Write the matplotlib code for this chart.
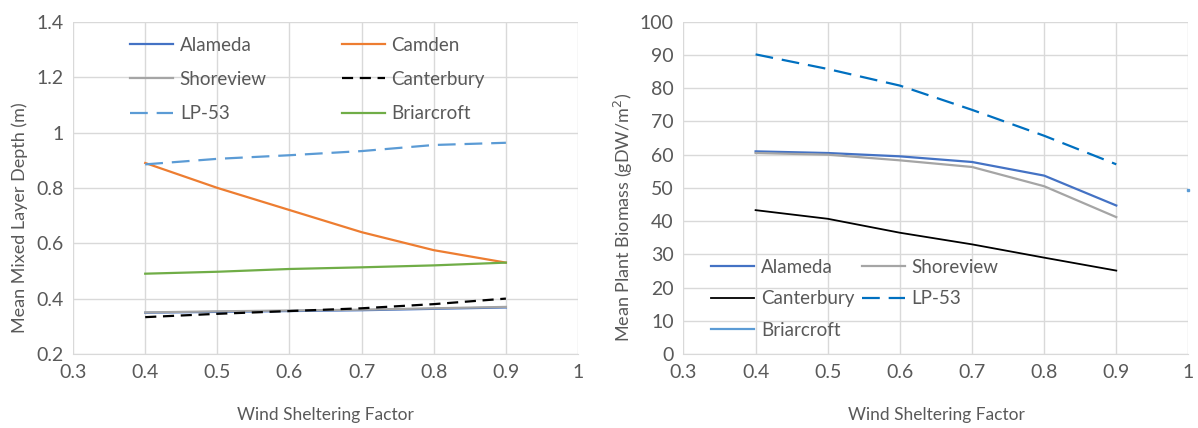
import matplotlib.pyplot as plt

plt.rcParams['font.family'] = ['Lato', 'DejaVu Sans']

# wind sheltering factor
wsf = [0.4, 0.5, 0.6, 0.7, 0.8, 0.9]

# --- mean mixed layer depth (m)
mld_alameda = [0.349, 0.352, 0.355, 0.358, 0.363, 0.368]
mld_camden = [0.89, 0.80, 0.72, 0.64, 0.575, 0.53]
mld_shoreview = [0.350, 0.354, 0.357, 0.360, 0.365, 0.370]
mld_canterbury = [0.333, 0.345, 0.355, 0.365, 0.380, 0.400]
mld_lp53 = [0.885, 0.905, 0.918, 0.933, 0.955, 0.963]
mld_briarcroft = [0.490, 0.497, 0.507, 0.513, 0.520, 0.530]

# --- mean plant biomass (gDW/m2)
pb_alameda = [61.0, 60.5, 59.5, 57.8, 53.7, 44.7]
pb_shoreview = [60.5, 60.0, 58.3, 56.3, 50.5, 41.2]
pb_canterbury = [43.3, 40.7, 36.5, 33.0, 29.0, 25.1]
pb_lp53 = [90.2, 85.8, 80.8, 73.5, 65.7, 57.1]
pb_briar_x = [1.0]
pb_briarcroft = [49.5]

txt = '#595959'
grid = '#D9D9D9'

fig = plt.figure(figsize=(11.98, 4.28), dpi=100)
ax1 = fig.add_axes([0.061, 0.173, 0.4215, 0.776])
ax2 = fig.add_axes([0.5705, 0.173, 0.4215, 0.776])

lw = 1.6
l_ala, = ax1.plot(wsf, mld_alameda, color='#4472C4', lw=lw, label='Alameda')
l_cam, = ax1.plot(wsf, mld_camden, color='#ED7D31', lw=lw, label='Camden')
l_sho, = ax1.plot(wsf, mld_shoreview, color='#A5A5A5', lw=lw, label='Shoreview')
l_can, = ax1.plot(wsf, mld_canterbury, color='black', lw=lw, ls=(0, (5, 3)), label='Canterbury')
l_lp, = ax1.plot(wsf, mld_lp53, color='#5B9BD5', lw=lw, ls=(0, (8, 4)), label='LP-53')
l_bri, = ax1.plot(wsf, mld_briarcroft, color='#70AD47', lw=lw, label='Briarcroft')

r_ala, = ax2.plot(wsf, pb_alameda, color='#4472C4', lw=lw, label='Alameda')
r_sho, = ax2.plot(wsf, pb_shoreview, color='#A5A5A5', lw=lw, label='Shoreview')
r_can, = ax2.plot(wsf, pb_canterbury, color='black', lw=1.3, label='Canterbury')
r_lp, = ax2.plot(wsf, pb_lp53, color='#0070C0', lw=lw, ls=(0, (8, 4)), label='LP-53')
r_bri, = ax2.plot(pb_briar_x, pb_briarcroft, color='#5B9BD5', lw=lw, label='Briarcroft')
ax2.plot(pb_briar_x, pb_briarcroft, color='#5B9BD5', ls='none', marker='s', ms=2,
         clip_on=False)

ax1.set_ylim(0.2, 1.4)
ax1.set_yticks([0.2, 0.4, 0.6, 0.8, 1.0, 1.2, 1.4])
ax1.set_yticklabels(['0.2', '0.4', '0.6', '0.8', '1', '1.2', '1.4'])
ax2.set_ylim(0, 100)
ax2.set_yticks(range(0, 101, 10))

for ax in (ax1, ax2):
    ax.set_xlim(0.3, 1.0)
    ax.set_xticks([0.3, 0.4, 0.5, 0.6, 0.7, 0.8, 0.9, 1.0])
    ax.set_xticklabels(['0.3', '0.4', '0.5', '0.6', '0.7', '0.8', '0.9', '1'])
    ax.grid(True, color=grid, lw=1.0)
    ax.set_axisbelow(True)
    for s in ('top', 'right', 'left'):
        ax.spines[s].set_visible(False)
    ax.spines['bottom'].set_color(grid)
    ax.tick_params(length=0, colors=txt, labelsize=14, pad=7)
    ax.set_xlabel('Wind Sheltering Factor', color=txt, fontsize=12.5, labelpad=19)

ax1.set_ylabel('Mean Mixed Layer Depth (m)', color=txt, fontsize=13)
ax2.set_ylabel('Mean Plant Biomass (gDW/m$^2$)', color=txt, fontsize=13)
ax1.yaxis.set_label_coords(-0.09, 0.41)
ax2.yaxis.set_label_coords(-0.095, 0.41)

# column-major fill so rows read left-to-right as in the original
h1 = [l_ala, l_sho, l_lp, l_cam, l_can, l_bri]
leg1 = ax1.legend(h1, [h.get_label() for h in h1], ncol=2, loc='upper left',
                  bbox_to_anchor=(0.113, 0.955), frameon=False, borderpad=0,
                  borderaxespad=0, fontsize=13.5, handlelength=2.3,
                  columnspacing=4.0, labelspacing=0.92, handletextpad=0.35)
for t in leg1.get_texts():
    t.set_color(txt)

h2 = [r_ala, r_can, r_bri, r_sho, r_lp]
leg2 = ax2.legend(h2, [h.get_label() for h in h2], ncol=2, loc='lower left',
                  bbox_to_anchor=(0.055, 0.045), frameon=False, borderpad=0,
                  borderaxespad=0, fontsize=13.5, handlelength=2.3,
                  columnspacing=0.4, labelspacing=0.78, handletextpad=0.35)
for t in leg2.get_texts():
    t.set_color(txt)

fig.savefig('out.png', dpi=100)
